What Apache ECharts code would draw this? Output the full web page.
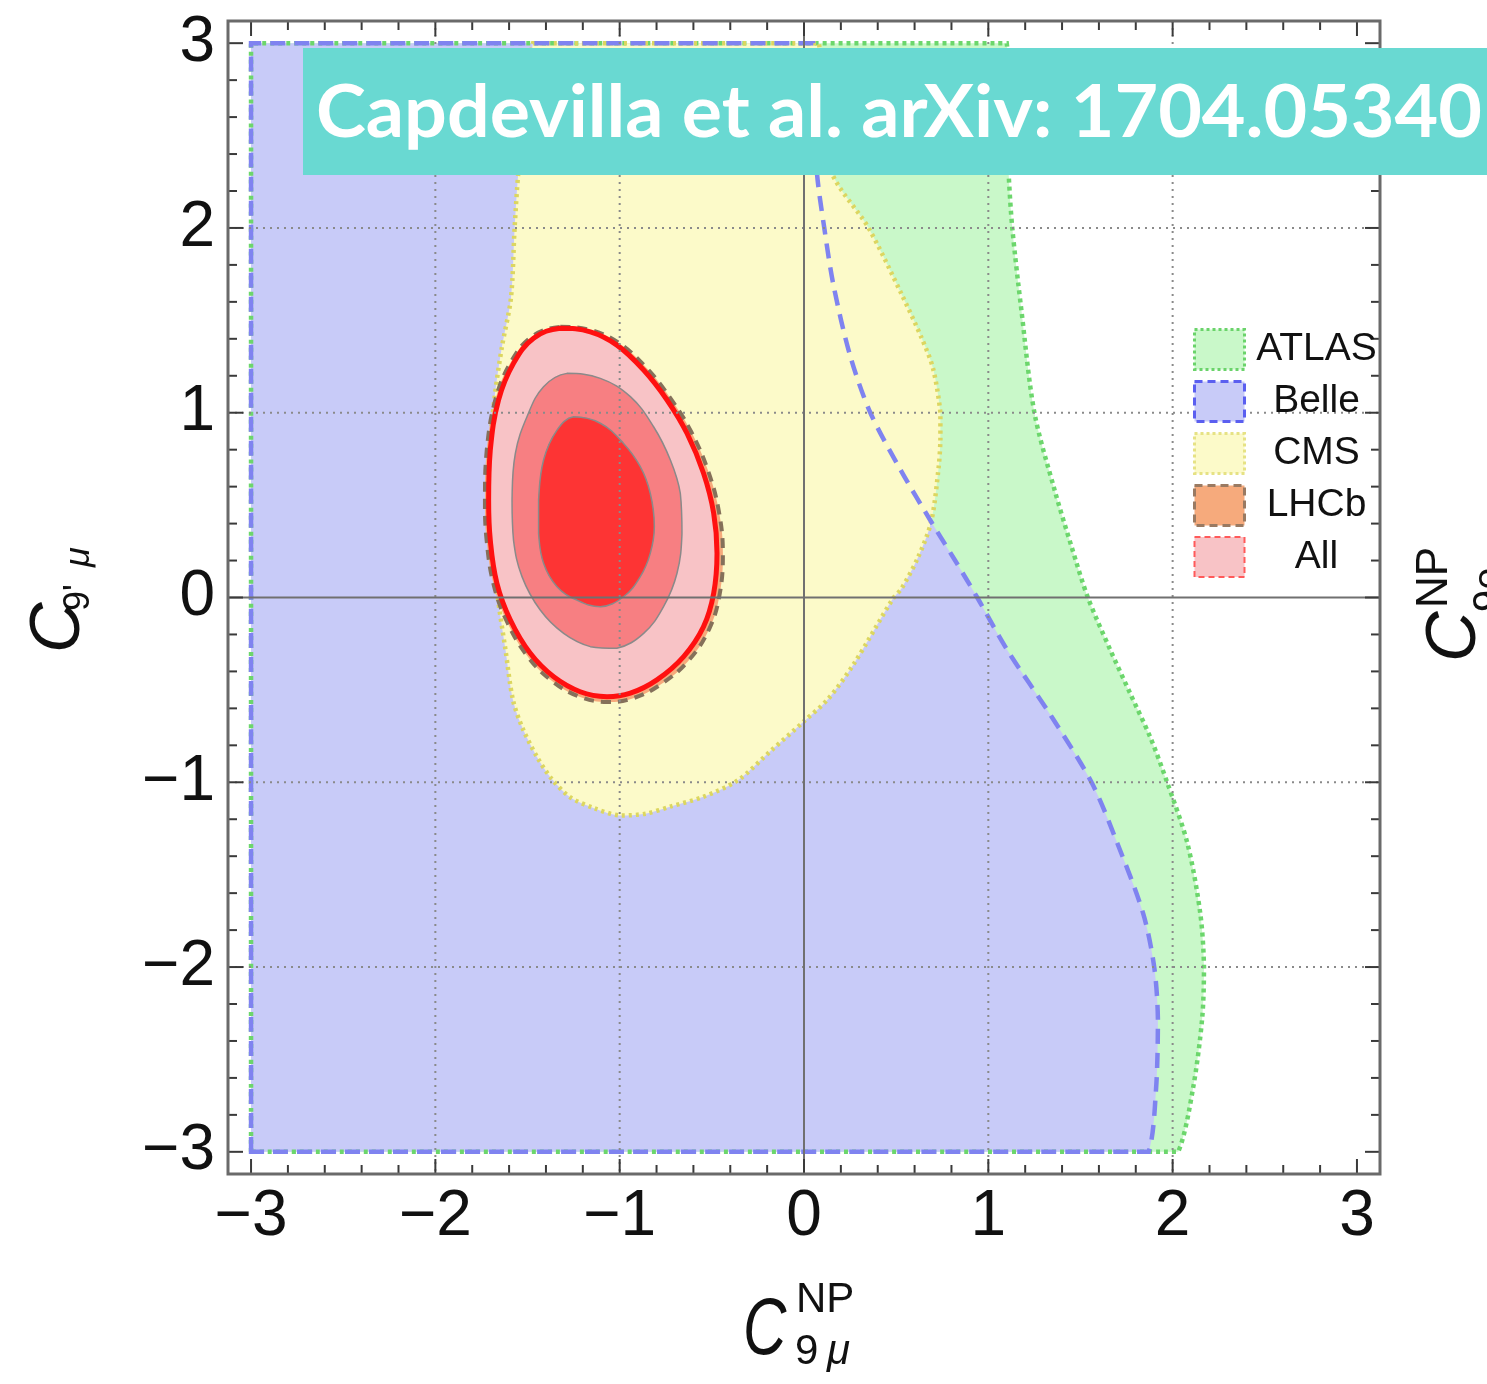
<!DOCTYPE html>
<html><head><meta charset="utf-8">
<script src="https://cdn.jsdelivr.net/npm/echarts@6/dist/echarts.min.js"></script>
<style>html,body{margin:0;padding:0;background:#fff}#c{width:1487px;height:1384px}</style>
</head><body><div id="c"></div>
<script>
// ---------- data ----------
const xTickLabels = [-3, -2, -1, 0, 1, 2, 3];
const yTickLabels = [-3, -2, -1, 0, 1, 2, 3];
const gridValues = [-2, -1, 1, 2];
const legendNames = ['ATLAS', 'Belle', 'CMS', 'LHCb', 'All'];

const atlasRegion = [[-3,-3],[-3,3],[1.05,3],[1.10,3],[1.10,2.6],[1.11,2.3],[1.13,2.0],[1.18,1.55],[1.25,1.0],[1.36,0.58],[1.45,0.28],[1.54,0],[1.66,-0.28],[1.77,-0.52],[1.88,-0.76],[1.97,-1.0],[2.08,-1.33],[2.15,-1.71],[2.17,-2.0],[2.16,-2.28],[2.11,-2.66],[2.03,-3],[1.96,-3]];
const belleRegion = [[-3,-3],[-3,3],[0.0,3],[0.05,3],[0.06,2.6],[0.07,2.3],[0.11,2.0],[0.16,1.69],[0.25,1.31],[0.36,1.0],[0.53,0.68],[0.69,0.41],[0.82,0.2],[0.94,0],[1.10,-0.28],[1.34,-0.64],[1.56,-1.0],[1.70,-1.33],[1.84,-1.71],[1.90,-2.0],[1.92,-2.28],[1.91,-2.66],[1.87,-3],[1.80,-3]];
const cmsRegion = [[-1.47,3],[-1.42,3],[0.03,3],[0.08,3],[0.12,2.6],[0.15,2.3],[0.35,2.0],[0.53,1.64],[0.64,1.4],[0.70,1.24],[0.74,1.0],[0.74,0.85],[0.73,0.70],[0.69,0.41],[0.62,0.22],[0.53,0.05],[0.48,-0.01],[0.27,-0.36],[0.13,-0.55],[0.0,-0.67],[-0.18,-0.83],[-0.36,-0.99],[-0.55,-1.08],[-0.72,-1.13],[-0.86,-1.17],[-1.0,-1.18],[-1.14,-1.14],[-1.27,-1.08],[-1.37,-0.98],[-1.45,-0.86],[-1.53,-0.70],[-1.58,-0.55],[-1.62,-0.28],[-1.66,-0.01],[-1.70,0.35],[-1.71,0.71],[-1.68,1.07],[-1.64,1.35],[-1.59,1.62],[-1.57,2.0],[-1.55,2.3],[-1.52,2.6]];
const lhcbRegion = [[-1.322,1.465],[-1.155,1.447],[-1.005,1.378],[-0.855,1.243],[-0.725,1.079],[-0.612,0.897],[-0.517,0.676],[-0.460,0.456],[-0.440,0.239],[-0.458,0.015],[-0.515,-0.172],[-0.628,-0.343],[-0.780,-0.472],[-0.930,-0.546],[-1.065,-0.566],[-1.215,-0.538],[-1.367,-0.452],[-1.500,-0.318],[-1.610,-0.134],[-1.684,0.070],[-1.722,0.311],[-1.731,0.528],[-1.721,0.800],[-1.673,1.075],[-1.588,1.278],[-1.475,1.413]];
const allOuter = [[-1.322,1.457],[-1.159,1.438],[-1.015,1.366],[-0.870,1.231],[-0.743,1.069],[-0.635,0.889],[-0.545,0.672],[-0.490,0.456],[-0.472,0.239],[-0.490,0.023],[-0.545,-0.158],[-0.653,-0.320],[-0.798,-0.446],[-0.942,-0.518],[-1.069,-0.537],[-1.214,-0.510],[-1.358,-0.429],[-1.485,-0.302],[-1.593,-0.122],[-1.666,0.077],[-1.702,0.311],[-1.711,0.528],[-1.702,0.798],[-1.657,1.069],[-1.576,1.267],[-1.467,1.403]];
const allMiddle = [[-1.286,1.213],[-1.105,1.186],[-0.942,1.087],[-0.816,0.924],[-0.725,0.744],[-0.671,0.564],[-0.662,0.347],[-0.689,0.131],[-0.762,-0.050],[-0.870,-0.194],[-1.015,-0.275],[-1.159,-0.266],[-1.304,-0.194],[-1.431,-0.068],[-1.530,0.113],[-1.576,0.311],[-1.584,0.528],[-1.566,0.780],[-1.503,0.978],[-1.413,1.141]];
const allInner = [[-1.250,0.978],[-1.105,0.943],[-0.979,0.834],[-0.888,0.708],[-0.834,0.564],[-0.812,0.383],[-0.834,0.239],[-0.888,0.113],[-0.979,0.004],[-1.105,-0.050],[-1.232,-0.014],[-1.340,0.058],[-1.413,0.185],[-1.440,0.347],[-1.440,0.528],[-1.413,0.744],[-1.340,0.906]];

// ---------- styles ----------
const C_ATLAS = '#c9f8c9', C_BELLE = '#c8cbf8', C_CMS = '#fcfac9', C_LHCB = '#f6aa7c';
const C_ALL1 = '#f8c3c6', C_ALL2 = '#f77f82', C_ALL3 = '#fd3434';

function polySeries(name, pts, style, z, smooth) {
  return {
    type: 'custom', name: name, coordinateSystem: 'cartesian2d', data: pts, z: z, silent: true, clip: true,
    renderItem: function (params, api) {
      if (params.dataIndex !== 0) return null;
      const px = pts.map(p => api.coord(p));
      let x0 = Infinity, y0 = Infinity, x1 = -Infinity, y1 = -Infinity;
      px.forEach(p => { x0 = Math.min(x0, p[0]); y0 = Math.min(y0, p[1]); x1 = Math.max(x1, p[0]); y1 = Math.max(y1, p[1]); });
      return { type: 'polygon', shape: { points: px, smooth: smooth || 0, smoothConstraint: [[x0, y0], [x1, y1]] }, style: style };
    }
  };
}

function overlayItem(params, api) {
  if (params.dataIndex !== 0) return null;
  const cs = params.coordSys;
  const L = cs.x, T = cs.y, R = cs.x + cs.width, B = cs.y + cs.height;
  const ch = [];
  const dot = { stroke: '#8a8a8a', lineWidth: 2, lineDash: [2, 5] };
  gridValues.forEach(v => {
    const px = api.coord([v, 0])[0];
    ch.push({ type: 'line', shape: { x1: px, y1: T, x2: px, y2: B }, style: dot });
    const py = api.coord([0, v])[1];
    ch.push({ type: 'line', shape: { x1: L, y1: py, x2: R, y2: py }, style: dot });
  });
  const o = api.coord([0, 0]);
  ch.push({ type: 'line', shape: { x1: o[0], y1: T, x2: o[0], y2: B }, style: { stroke: '#707070', lineWidth: 2 } });
  ch.push({ type: 'line', shape: { x1: L, y1: o[1], x2: R, y2: o[1] }, style: { stroke: '#707070', lineWidth: 2 } });
  const tk = { stroke: '#3a3a3a', lineWidth: 2 };
  function tickX(v, len) {
    const px = api.coord([v, 0])[0];
    ch.push({ type: 'line', shape: { x1: px, y1: B, x2: px, y2: B - len }, style: tk });
    ch.push({ type: 'line', shape: { x1: px, y1: T, x2: px, y2: T + len }, style: tk });
  }
  function tickY(v, len) {
    const py = api.coord([0, v])[1];
    ch.push({ type: 'line', shape: { x1: L, y1: py, x2: L + len, y2: py }, style: tk });
    ch.push({ type: 'line', shape: { x1: R, y1: py, x2: R - len, y2: py }, style: tk });
  }
  xTickLabels.forEach(v => tickX(v, 15));
  yTickLabels.forEach(v => tickY(v, 15));
  for (let i = -15; i <= 15; i++) {
    if (i % 5 === 0) continue;
    tickX(i / 5, 9); tickY(i / 5, 9);
  }
  ch.push({ type: 'rect', shape: { x: L, y: T, width: R - L, height: B - T }, style: { fill: 'none', stroke: '#6a6a6a', lineWidth: 3 } });
  return { type: 'group', children: ch };
}

const minusFmt = v => String(v).replace('-', '\u2212');

// text helper: place by baseline
function txt(x, base, str, size, extra) {
  const st = Object.assign({ text: str, fontFamily: 'Liberation Sans', fontSize: size, fill: '#111', verticalAlign: 'middle' }, extra || {});
  return { type: 'text', x: x, y: base - 0.35 * size, style: st };
}

// banner text fit
const bannerText = 'Capdevilla et al. arXiv: 1704.05340';
const mctx = document.createElement('canvas').getContext('2d');
mctx.font = 'bold 72px Lato';
const bannerScale = 1166 / mctx.measureText(bannerText).width;

const cTitle = Object.assign(txt(743, 1360, 'C', 80, { fontStyle: 'italic' }), { scaleX: 0.75 });

const chart = echarts.init(document.getElementById('c'), null, { renderer: 'canvas' });
chart.setOption({
  animation: false,
  backgroundColor: '#fff',
  grid: { left: 228, top: 21, width: 1152, height: 1153, containLabel: false },
  xAxis: {
    type: 'value', min: -3.125, max: 3.125,
    axisLine: { show: false }, axisTick: { show: false }, splitLine: { show: false },
    axisLabel: { customValues: xTickLabels, formatter: minusFmt, fontFamily: 'Liberation Sans', fontSize: 64, color: '#111', margin: 11 }
  },
  yAxis: {
    type: 'value', min: -3.12, max: 3.12,
    axisLine: { show: false }, axisTick: { show: false }, splitLine: { show: false },
    axisLabel: { customValues: yTickLabels, formatter: minusFmt, fontFamily: 'Liberation Sans', fontSize: 64, color: '#111', margin: 13 }
  },
  legend: {
    orient: 'vertical', left: 1188, top: 323, itemWidth: 50, itemHeight: 40, itemGap: 9, z: 20,
    icon: 'rect', selectedMode: false,
    formatter: n => '{c|' + n + '}',
    textStyle: { fontFamily: 'Liberation Sans', fontSize: 39, color: '#111',
      rich: { c: { width: 134, align: 'center', fontFamily: 'Liberation Sans', fontSize: 39, lineHeight: 40, color: '#111' } } },
    data: [
      { name: legendNames[0], itemStyle: { color: C_ATLAS, borderColor: '#6ad36a', borderWidth: 3, borderType: [3, 3] } },
      { name: legendNames[1], itemStyle: { color: C_BELLE, borderColor: '#5b5ff0', borderWidth: 3, borderType: [8, 5] } },
      { name: legendNames[2], itemStyle: { color: C_CMS, borderColor: '#e6e284', borderWidth: 3, borderType: [3, 3] } },
      { name: legendNames[3], itemStyle: { color: C_LHCB, borderColor: '#9a7a62', borderWidth: 3, borderType: [8, 5] } },
      { name: legendNames[4], itemStyle: { color: C_ALL1, borderColor: '#ff5a5a', borderWidth: 2, borderType: [6, 4] } }
    ]
  },
  series: [
    polySeries('ATLAS', atlasRegion, { fill: C_ATLAS }, 1, 0.3),
    polySeries('Belle', belleRegion, { fill: C_BELLE }, 2, 0.3),
    polySeries('CMS', cmsRegion, { fill: C_CMS }, 3, 0.3),
    polySeries('ATLAS edge', atlasRegion, { fill: 'none', stroke: '#6cd66c', lineWidth: 4.5, lineDash: [4, 4] }, 4, 0.3),
    polySeries('CMS edge', cmsRegion, { fill: 'none', stroke: '#dcd660', lineWidth: 4.5, lineDash: [3, 4] }, 4, 0.3),
    polySeries('Belle edge', belleRegion, { fill: 'none', stroke: '#7f83f0', lineWidth: 4.5, lineDash: [15, 9] }, 4, 0.3),
    polySeries('LHCb', lhcbRegion, { fill: C_LHCB, stroke: '#85705a', lineWidth: 4, lineDash: [10, 7] }, 5, 0.4),
    polySeries('All', allOuter, { fill: C_ALL1, stroke: '#ff1010', lineWidth: 5 }, 6, 0.4),
    polySeries('All 2', allMiddle, { fill: C_ALL2, stroke: '#8a8a8a', lineWidth: 1.5 }, 7, 0.4),
    polySeries('All 1', allInner, { fill: C_ALL3, stroke: '#8a8a8a', lineWidth: 1.5 }, 8, 0.4),
    { type: 'custom', name: 'frame', coordinateSystem: 'cartesian2d', data: [[0, 0]], z: 9, silent: true, clip: false, renderItem: overlayItem }
  ],
  graphic: [
    { type: 'rect', shape: { x: 303, y: 48, width: 1184, height: 127 }, style: { fill: '#69d9d2' }, z: 100 },
    { type: 'text', x: 316, y: 114, scaleX: bannerScale, z: 101,
      style: { text: bannerText, fontFamily: 'Lato', fontWeight: 'bold', fontSize: 72, fill: '#fff', verticalAlign: 'middle' } },
    // x axis title  C^NP_{9 mu}
    cTitle,
    txt(796, 1315, 'NP', 42),
    txt(795, 1367, '9', 42),
    txt(827, 1367, '\u03bc', 42, { fontStyle: 'italic' }),
    // y axis title  C_{9' mu}
    { type: 'group', x: 84, y: 653, rotation: Math.PI / 2, children: [
      txt(0, 0, 'C', 70, { fontStyle: 'italic' }),
      txt(42, 8, "9'", 36),
      txt(86, 8, '\u03bc', 36, { fontStyle: 'italic' })
    ] },
    // right (cut) title  C^NP_{9e}
    { type: 'group', x: 1480, y: 662, rotation: Math.PI / 2, children: [
      txt(0, 0, 'C', 70, { fontStyle: 'italic' }),
      txt(54, -30, 'NP', 44),
      txt(50, 24, '9e', 40)
    ] }
  ]
});
</script>
</body></html>
